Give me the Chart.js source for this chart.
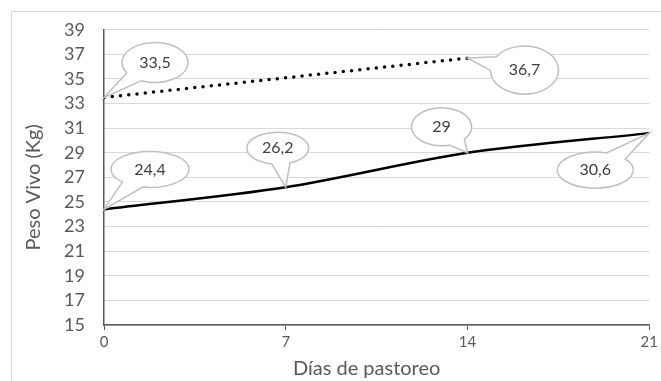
<!DOCTYPE html>
<html>
<head>
<meta charset="utf-8">
<script src="https://cdn.jsdelivr.net/npm/chart.js@4"></script>
<style>
  body { margin: 0; background: #fff; }
  #frame { position: absolute; left: 11px; top: 11px; width: 660px; height: 380px; border: 1px solid #d9d9d9; }
  #wrap { position: absolute; left: 0; top: 0; width: 661px; height: 381px; }
</style>
</head>
<body>
<div id="frame"></div>
<div id="wrap"><canvas id="grafico" width="661" height="381"></canvas></div>
<script>
const dias = [0, 7, 14, 21];
const pesoSolido = [24.4, 26.2, 29, 30.6];
const diasPunteado = [0, 14];
const pesoPunteado = [33.5, 36.7];
const ticksY = [15, 17, 19, 21, 23, 25, 27, 29, 31, 33, 35, 37, 39];

// posicion de las burbujas respecto al punto (cx, cy, rx, ry)
const burbujasSolido = [[46, -40, 39, 18], [-8, -39, 31, 16], [-26, -26, 30, 19], [-54, 37, 38, 18]];
const burbujasPunteado = [[51, -35, 33, 20], [57, 12, 34, 24]];

const gris = "#595959";

const burbujas = {
  id: "burbujas",
  afterDatasetsDraw(chart) {
    const ctx = chart.ctx;
    const conf = [burbujasSolido, burbujasPunteado];
    chart.data.datasets.forEach((ds, d) => {
      const meta = chart.getDatasetMeta(d);
      meta.data.forEach((p, i) => {
        const [ox, oy, rx, ry] = conf[d][i];
        const cx = p.x + ox, cy = p.y + oy;
        const t = Math.atan2(-oy / ry, -ox / rx);
        const del = 0.3;
        ctx.save();
        ctx.beginPath();
        ctx.moveTo(p.x, p.y);
        ctx.lineTo(cx + rx * Math.cos(t + del), cy + ry * Math.sin(t + del));
        ctx.ellipse(cx, cy, rx, ry, 0, t + del, t - del + Math.PI * 2);
        ctx.closePath();
        ctx.fillStyle = "#fff";
        ctx.fill();
        ctx.strokeStyle = "#bfbfbf";
        ctx.lineWidth = 1.5;
        ctx.stroke();
        ctx.fillStyle = "#404040";
        ctx.font = "16px Lato";
        ctx.textAlign = "center";
        ctx.textBaseline = "middle";
        ctx.fillText(String(ds.data[i].y).replace(".", ","), cx, cy);
        ctx.restore();
      });
    });
  }
};

new Chart(document.getElementById("grafico"), {
  type: "line",
  data: {
    datasets: [
      {
        data: dias.map((x, i) => ({ x: x, y: pesoSolido[i] })),
        borderColor: "#000",
        borderWidth: 2.5,
        tension: 0.3,
        pointRadius: 0
      },
      {
        data: diasPunteado.map((x, i) => ({ x: x, y: pesoPunteado[i] })),
        borderColor: "#000",
        borderWidth: 3.5,
        borderCapStyle: "round",
        borderDash: [0, 8.3],
        pointRadius: 0
      }
    ]
  },
  options: {
    responsive: false,
    animation: false,
    layout: { padding: { left: 0, right: 11, top: 25, bottom: 0 } },
    plugins: { legend: { display: false }, tooltip: { enabled: false } },
    scales: {
      x: {
        type: "linear",
        min: 0,
        max: 21,
        afterBuildTicks: s => { s.ticks = dias.map(v => ({ value: v })); },
        afterFit: s => { s.height = 56; },
        grid: { drawOnChartArea: false, drawTicks: true, tickLength: 5, tickColor: gris },
        border: { color: gris, width: 1.5 },
        ticks: { color: gris, font: { family: "Lato", size: 15 }, padding: 3, maxRotation: 0 },
        title: { display: true, text: "Días de pastoreo\u2002\u2002", color: gris, font: { family: "Lato", size: 20 }, padding: 0 }
      },
      y: {
        min: 15,
        max: 39,
        afterBuildTicks: s => { s.ticks = ticksY.map(v => ({ value: v })); },
        afterFit: s => { s.width = 104; },
        grid: { color: "#d9d9d9", drawTicks: false },
        border: { color: gris, width: 1.5 },
        ticks: { color: gris, font: { family: "Lato", size: 18 }, padding: 19 },
        title: { display: true, text: "Peso Vivo (Kg)\u2002\u2002", color: gris, font: { family: "Lato", size: 20 }, padding: { top: 22, bottom: 0 } }
      }
    }
  },
  plugins: [burbujas]
});
</script>
</body>
</html>
